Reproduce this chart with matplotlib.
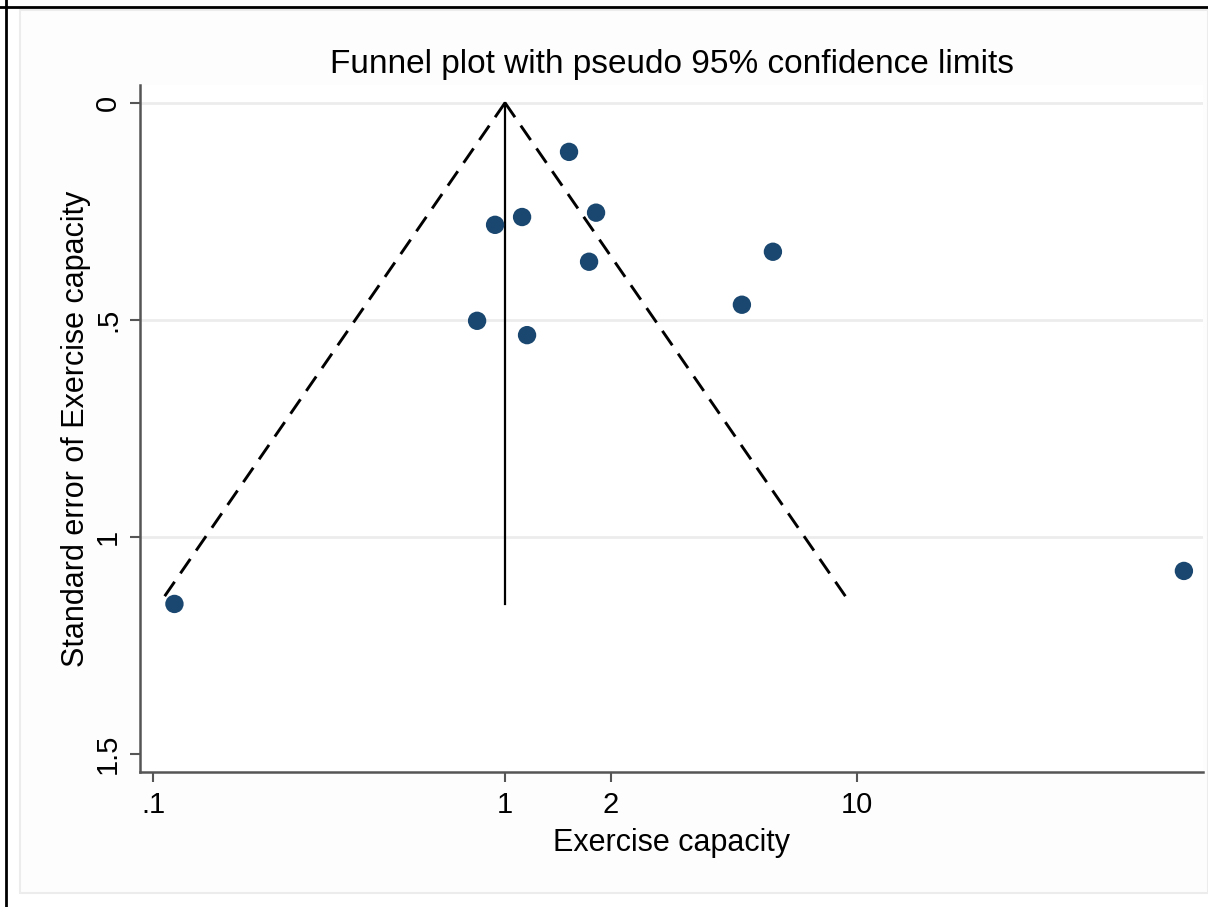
import numpy as np
import matplotlib
matplotlib.use("Agg")
import matplotlib.pyplot as plt
from matplotlib.patches import Rectangle
from matplotlib.lines import Line2D

# Data
effect = [0.115, 1.52, 0.937, 1.118, 1.814, 1.733, 5.77, 4.71, 0.833, 1.155, 84.9]
se = [1.154, 0.113, 0.281, 0.263, 0.253, 0.366, 0.343, 0.465, 0.502, 0.535, 1.078]
pooled = 1.0
xticks = [0.1, 1, 2, 10]
xticklabels = [".1", "1", "2", "10"]
yticks = [0, 0.5, 1, 1.5]
yticklabels = ["0", ".5", "1", "1.5"]

plt.rcParams['font.family'] = ['Liberation Sans', 'DejaVu Sans']

W, H = 1208, 907
fig = plt.figure(figsize=(W / 100, H / 100), dpi=100)

# graph region background
fig.patches.append(Rectangle((20 / W, 1 - 893 / H), (W - 20) / W, (893 - 10) / H,
                             transform=fig.transFigure, facecolor='#fdfdfd',
                             edgecolor='#ececec', linewidth=1.5, zorder=-5))
# outer black frame lines
fig.lines.append(Line2D([6 / W, 6 / W], [0, 1], transform=fig.transFigure,
                        color='black', linewidth=2, zorder=-4))
fig.lines.append(Line2D([6 / W, 1], [1 - 7 / H, 1 - 7 / H], transform=fig.transFigure,
                        color='black', linewidth=2, zorder=-4))
fig.lines.append(Line2D([0, 6 / W], [1 - 7 / H, 1 - 7 / H], transform=fig.transFigure,
                        color='black', linewidth=2, zorder=-4))

l, r, t, b = 140, 1203, 85, 772
ax = fig.add_axes([l / W, 1 - b / H, (r - l) / W, (b - t) / H])
ax.set_zorder(2)
ax.set_facecolor('white')

ax.set_xscale('log')
ax.set_xlim(0.0918, 96.2)
ax.set_ylim(1.541, -0.041)

for yv in [0, 0.5, 1]:
    ax.axhline(yv, color='#ececec', linewidth=2, zorder=0)

se_max = max(se)
s_line = np.array([0, se_max])
ax.plot(np.exp(np.log(pooled) - 1.96 * s_line), s_line, color='black',
        linestyle=(0, (6, 3.5)), linewidth=2.1, zorder=2)
ax.plot(np.exp(np.log(pooled) + 1.96 * s_line), s_line, color='black',
        linestyle=(0, (6, 3.5)), linewidth=2.1, zorder=2)
ax.plot([pooled, pooled], [0, se_max], color='black', linewidth=1.6, zorder=2)

ax.scatter(effect, se, s=175, color='#1a476f', edgecolors='none', zorder=3)

ax.set_xticks(xticks)
ax.set_xticklabels(xticklabels)
ax.xaxis.set_minor_locator(matplotlib.ticker.NullLocator())
ax.set_yticks(yticks)
ax.set_yticklabels(yticklabels, rotation=90, va='center')

for sp in ['top', 'right']:
    ax.spines[sp].set_visible(False)
for sp in ['left', 'bottom']:
    ax.spines[sp].set_color('#555555')
    ax.spines[sp].set_linewidth(1.8)
ax.tick_params(axis='both', direction='out', length=7, width=1.5, color='#555555',
               labelsize=21, labelcolor='black')
ax.tick_params(axis='x', pad=7)
ax.tick_params(axis='y', pad=6)

ax.set_title('Funnel plot with pseudo 95% confidence limits', fontsize=24, pad=9)
ax.set_xlabel('Exercise capacity', fontsize=22, labelpad=6)
ax.set_ylabel('Standard error of Exercise capacity', fontsize=22, labelpad=2)

fig.savefig('out.png', dpi=100)
